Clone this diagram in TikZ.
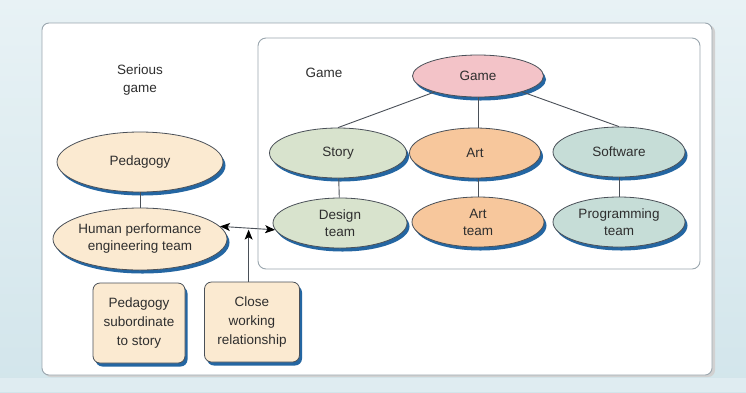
\documentclass[tikz,border=0pt]{standalone}
\usepackage{fontspec}
\setmainfont{Liberation Sans}
\usetikzlibrary{shapes.geometric,shadows,arrows.meta,calc}

\definecolor{bgblue}{HTML}{D2E5EB}
\definecolor{bglight}{HTML}{E8F2F5}
\definecolor{panelline}{HTML}{9AA6AE}
\definecolor{inkline}{HTML}{4A5058}
\definecolor{shadowblue}{HTML}{2466A2}
\definecolor{txt}{HTML}{2E2E2E}
\definecolor{cream}{HTML}{FBEAD1}
\definecolor{pinkfill}{HTML}{F3C3C8}
\definecolor{greenfill}{HTML}{D8E3CD}
\definecolor{orangefill}{HTML}{F7C79C}
\definecolor{tealfill}{HTML}{C6DDD7}

\tikzset{
  blob/.style={ellipse, draw=inkline, line width=0.8pt, inner sep=0pt,
    text=txt, font=\fontsize{13.5}{17}\selectfont, align=center,
    drop shadow={shadow xshift=2.5pt, shadow yshift=-3.5pt, fill=shadowblue, opacity=1}},
  notebox/.style={rectangle, rounded corners=7pt, draw=inkline, line width=0.8pt,
    fill=cream, text=txt, font=\fontsize{13.5}{19}\selectfont, align=center,
    inner sep=0pt,
    drop shadow={shadow xshift=2.5pt, shadow yshift=-3.5pt, fill=shadowblue, opacity=1}},
  link/.style={draw=inkline, line width=0.9pt},
  headtip/.tip={Stealth[length=10pt,width=8pt,inset=2.5pt,color=black]},
  heading/.style={text=txt, font=\fontsize{13.5}{18}\selectfont, align=center}
}

\begin{document}
\begin{tikzpicture}[x=1pt,y=-1pt]
  \useasboundingbox (0,0) rectangle (746,392);

  % backdrop
  \shade[top color=bglight, bottom color=bgblue] (0,0) rectangle (746,392);
  \fill[bglight, opacity=0.6] (0,378) rectangle (746,392);

  % outer panel
  \fill[black!18, rounded corners=7pt] (44,25) rectangle (715,377);
  \draw[panelline, fill=white, rounded corners=7pt, line width=0.9pt] (42,23) rectangle (712,375);

  % game panel
  \draw[panelline, fill=white, rounded corners=8pt, line width=0.9pt] (258,38) rectangle (700,269);

  % headings
  \node[heading] (hserious) at (140,80) {Serious\\game};
  \node[heading, anchor=west] (hgame) at (302,73) {Game};

  % ellipses
  \node[blob, fill=pinkfill,   minimum width=131pt, minimum height=42pt] (game)     at (478,76)  {Game};
  \node[blob, fill=greenfill,  minimum width=137pt, minimum height=50pt] (story)    at (338,153) {Story};
  \node[blob, fill=orangefill, minimum width=131pt, minimum height=50pt] (art)      at (475,153) {Art};
  \node[blob, fill=tealfill,   minimum width=132pt, minimum height=50pt] (soft)     at (619,152) {Software};
  \node[blob, fill=greenfill,  minimum width=134pt, minimum height=50pt] (design)   at (340,223) {Design\\team};
  \node[blob, fill=orangefill, minimum width=132pt, minimum height=50pt] (artteam)  at (478,222) {Art\\team};
  \node[blob, fill=tealfill,   minimum width=132pt, minimum height=50pt] (prog)     at (619,222) {Programming\\team};
  \node[blob, fill=cream,      minimum width=166pt, minimum height=60pt] (ped)      at (140,162) {Pedagogy};
  \node[blob, fill=cream,      minimum width=170pt, minimum height=62pt] (hpe)      at (140,239) {Human performance\\engineering team};

  % note boxes
  \node[notebox, minimum width=92pt, minimum height=80pt] (subord) at (139,323) {Pedagogy\\subordinate\\to story};
  \node[notebox, minimum width=95pt, minimum height=80pt] (close)  at (252,322) {Close\\working\\relationship};

  % hierarchy links
  \draw[link] (game) -- (story.north);
  \draw[link] (game) -- (art.north -| game.south);
  \draw[link] (game) -- (soft.north);
  \draw[link] (story) -- (design);
  \draw[link] (art.south -| artteam.north) -- (artteam);
  \draw[link] (soft) -- (prog);
  \draw[link] (ped) -- (hpe);

  % relationship arrows
  \draw[link, headtip-headtip] (hpe.9) -- (design.186);
  \coordinate (cw) at ($(hpe.9)!0.52!(design.186)$);
  \draw[link, -headtip] (cw |- close.north) -- ([yshift=-1.5pt]cw);
\end{tikzpicture}
\end{document}
